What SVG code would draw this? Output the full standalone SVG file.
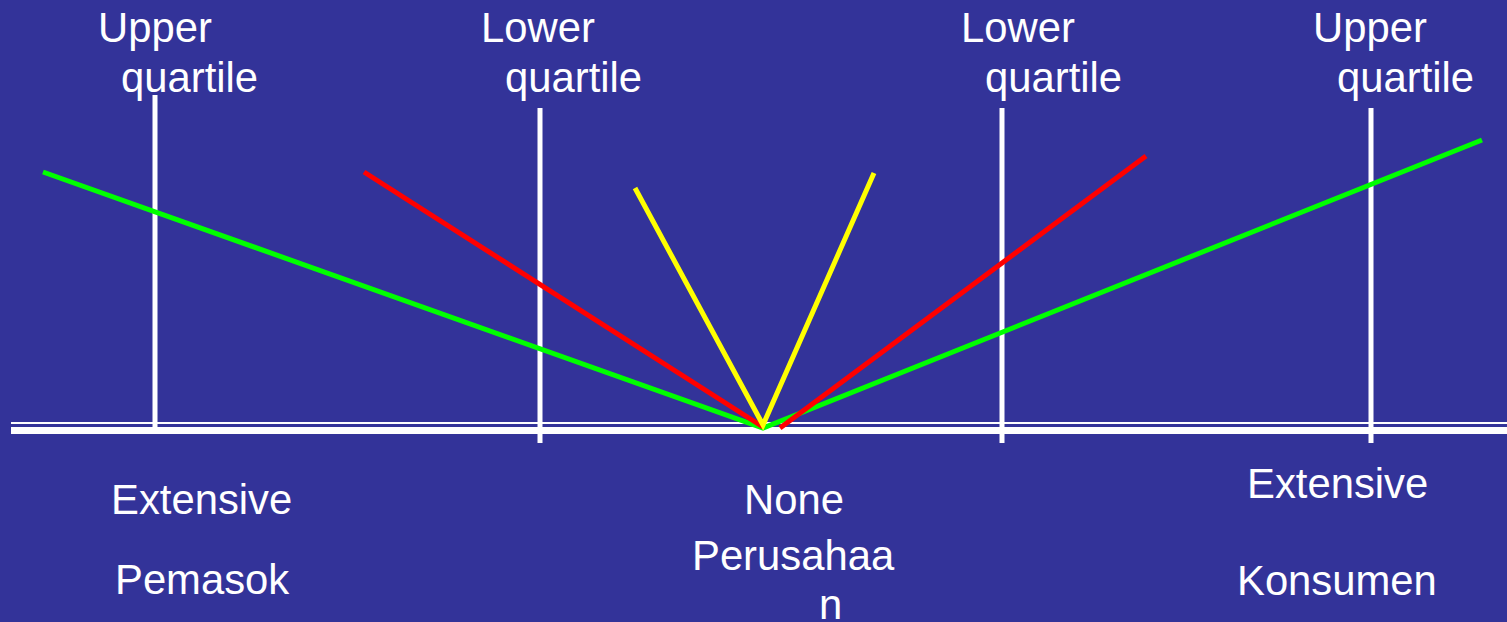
<svg xmlns="http://www.w3.org/2000/svg" width="1507" height="622" viewBox="0 0 1507 622">
<style>
.t{font-family:"Liberation Sans",Arial,sans-serif;font-size:41.8px;fill:#ffffff}
.w{stroke:#ffffff;stroke-width:5;fill:none}
.g{stroke:#00ff00;stroke-width:5;fill:none}
.r{stroke:#ff0000;stroke-width:5;fill:none}
.y{stroke:#ffff00;stroke-width:5;fill:none}
</style>
<rect width="1507" height="622" fill="#333399"/>
<g id="axes">
<line class="w" x1="11" y1="423" x2="1507" y2="423" style="stroke-width:2"/>
<line class="w" x1="11" y1="430.5" x2="1507" y2="430.5" style="stroke-width:7"/>
<line class="w" x1="155" y1="95" x2="155" y2="428"/>
<line class="w" x1="540" y1="108" x2="540" y2="443"/>
<line class="w" x1="1002" y1="108" x2="1002" y2="443"/>
<line class="w" x1="1371" y1="108" x2="1371" y2="443"/>
</g>
<g id="connectors">
<polyline class="g" points="43,172 763,428 1482,140"/>
<line class="r" x1="364" y1="172" x2="763" y2="427"/>
<line class="r" x1="780" y1="428" x2="1146" y2="156"/>
<polyline class="y" points="635,188 763,425 874,173"/>
</g>
<g id="label-upper-left"><text class="t" x="98" y="42">Upper</text><text class="t" x="121" y="92">quartile</text></g>
<g id="label-lower-left"><text class="t" x="481" y="42">Lower</text><text class="t" x="505" y="92">quartile</text></g>
<g id="label-lower-right"><text class="t" x="961" y="42">Lower</text><text class="t" x="985" y="92">quartile</text></g>
<g id="label-upper-right"><text class="t" x="1313" y="42">Upper</text><text class="t" x="1337" y="92">quartile</text></g>
<g id="label-pemasok"><text class="t" x="111" y="514">Extensive</text><text class="t" x="115" y="594">Pemasok</text></g>
<g id="label-perusahaan"><text class="t" x="744" y="514">None</text><text class="t" x="692" y="570">Perusahaa</text><text class="t" x="819" y="619">n</text></g>
<g id="label-konsumen"><text class="t" x="1247" y="498">Extensive</text><text class="t" x="1237" y="595">Konsumen</text></g>
</svg>
